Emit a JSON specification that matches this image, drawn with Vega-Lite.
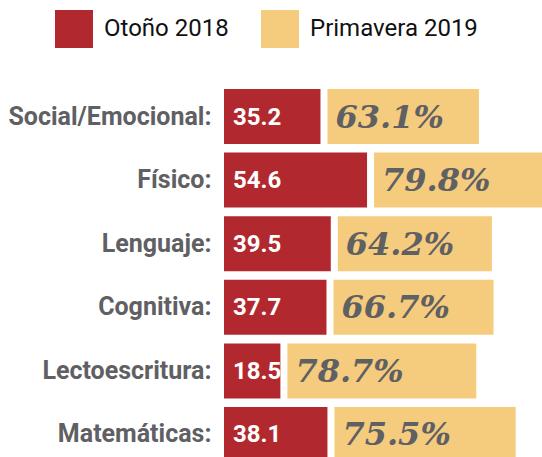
{
  "$schema": "https://vega.github.io/schema/vega-lite/v6.json",
  "autosize": {"type": "none"},
  "padding": {"left": 236, "top": 85, "right": 0, "bottom": 0},
  "width": 306,
  "height": 372,
  "background": "white",
  "config": {"view": {"stroke": null}},
  "data": {
    "values": [
      {"cat": "Social/Emocional:", "series": "Otoño 2018", "value": 35.2, "label": "35.2"},
      {"cat": "Social/Emocional:", "series": "Primavera 2019", "value": 63.1, "label": "63.1%"},
      {"cat": "Físico:", "series": "Otoño 2018", "value": 54.6, "label": "54.6"},
      {"cat": "Físico:", "series": "Primavera 2019", "value": 79.8, "label": "79.8%"},
      {"cat": "Lenguaje:", "series": "Otoño 2018", "value": 39.5, "label": "39.5"},
      {"cat": "Lenguaje:", "series": "Primavera 2019", "value": 64.2, "label": "64.2%"},
      {"cat": "Cognitiva:", "series": "Otoño 2018", "value": 37.7, "label": "37.7"},
      {"cat": "Cognitiva:", "series": "Primavera 2019", "value": 66.7, "label": "66.7%"},
      {"cat": "Lectoescritura:", "series": "Otoño 2018", "value": 18.5, "label": "18.5"},
      {"cat": "Lectoescritura:", "series": "Primavera 2019", "value": 78.7, "label": "78.7%"},
      {"cat": "Matemáticas:", "series": "Otoño 2018", "value": 38.1, "label": "38.1"},
      {"cat": "Matemáticas:", "series": "Primavera 2019", "value": 75.5, "label": "75.5%"}
    ]
  },
  "transform": [
    {"stack": "value", "groupby": ["cat"], "sort": [{"field": "series", "order": "ascending"}], "as": ["x0", "x1"]}
  ],
  "encoding": {
    "y": {
      "field": "cat", "type": "nominal", "sort": null,
      "scale": {"paddingInner": 0.135, "paddingOuter": 0, "range": [4, 377]},
      "axis": {"title": null, "domain": false, "ticks": false, "labelPadding": 25, "labelLimit": 400, "labelFont": "Roboto", "labelFontSize": 25, "labelFontWeight": "bold", "labelColor": "#5f6063"}
    }
  },
  "layer": [
    {
      "transform": [{"filter": "datum.series == 'Otoño 2018'"}],
      "mark": {"type": "bar", "xOffset": -12},
      "encoding": {
        "x": {"field": "x0", "type": "quantitative", "scale": {"domain": [0, 127.5], "nice": false}, "axis": null},
        "x2": {"field": "x1"},
        "color": {
          "field": "series", "type": "nominal",
          "scale": {"domain": ["Otoño 2018", "Primavera 2019"], "range": ["#b1292e", "#f5cb7e"]},
          "legend": {
            "title": null, "orient": "none", "legendX": -181, "legendY": -75, "direction": "horizontal",
            "symbolType": "square", "symbolSize": 1444, "symbolStrokeWidth": 0, "symbolOpacity": 1,
            "labelFont": "Roboto", "labelFontSize": 24, "labelColor": "#111111", "labelLimit": 400,
            "labelOffset": 11, "columnPadding": 32, "padding": 0
          }
        }
      }
    },
    {
      "transform": [{"filter": "datum.series == 'Primavera 2019'"}],
      "mark": {"type": "bar", "xOffset": 7, "x2Offset": 7},
      "encoding": {
        "x": {"field": "x0", "type": "quantitative"},
        "x2": {"field": "x1"},
        "color": {"field": "series", "type": "nominal"}
      }
    },
    {
      "transform": [{"filter": "datum.series == 'Otoño 2018'"}],
      "mark": {"type": "text", "align": "left", "baseline": "middle", "dx": -3, "dy": 1, "font": "Roboto", "fontWeight": "bold", "fontSize": 24, "color": "white"},
      "encoding": {
        "x": {"field": "x0", "type": "quantitative"},
        "text": {"field": "label"}
      }
    },
    {
      "transform": [{"filter": "datum.series == 'Primavera 2019'"}],
      "mark": {"type": "text", "align": "left", "baseline": "middle", "dx": 15, "dy": 1, "font": "DejaVu Serif", "fontStyle": "italic", "fontWeight": "bold", "fontSize": 32, "color": "#5f6063"},
      "encoding": {
        "x": {"field": "x0", "type": "quantitative"},
        "text": {"field": "label"}
      }
    }
  ]
}
